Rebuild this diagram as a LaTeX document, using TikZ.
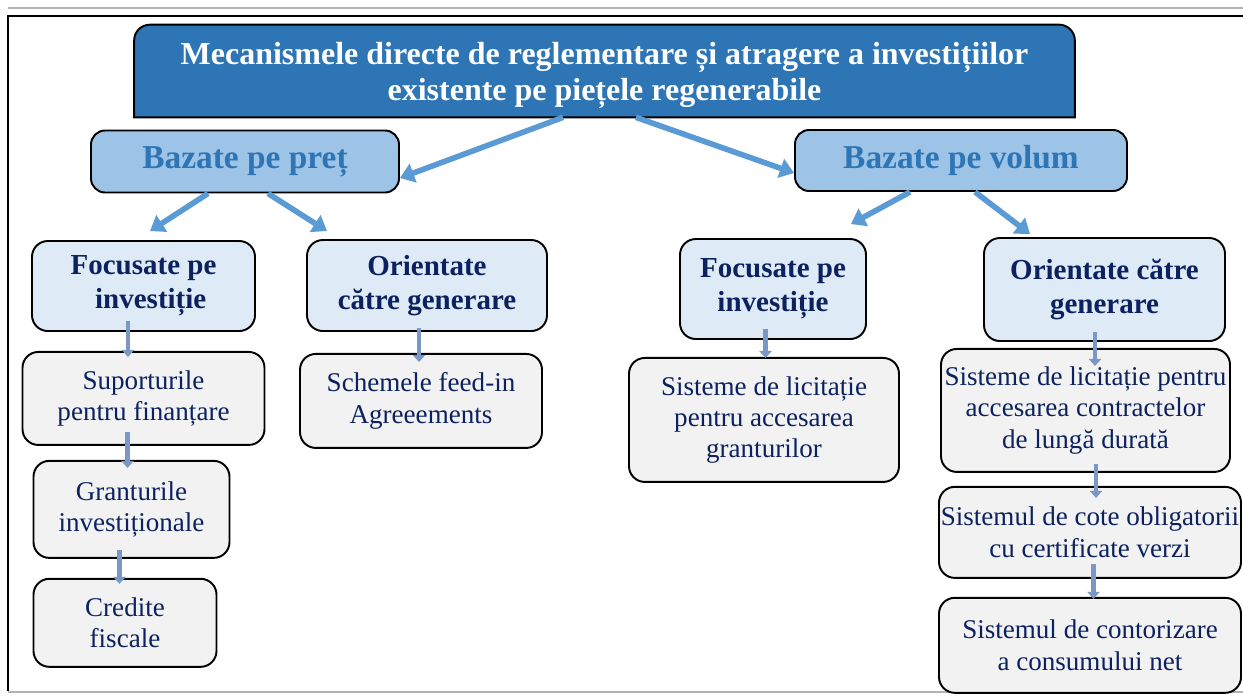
\documentclass[tikz,border=0pt]{standalone}
\usepackage{fontspec}
\setmainfont{Liberation Serif}
\usepackage{tikz}
\usetikzlibrary{arrows.meta,positioning,backgrounds}
\definecolor{title-blue}{RGB}{46,117,182}
\definecolor{group-blue}{RGB}{157,195,230}
\definecolor{pale-blue}{RGB}{222,235,247}
\definecolor{leaf-gray}{RGB}{242,242,242}
\definecolor{navy}{RGB}{12,34,96}
\definecolor{arrow-blue}{RGB}{91,155,213}
\definecolor{step-blue}{RGB}{122,152,198}

\begin{document}
\begin{tikzpicture}[
    title/.style={rectangle, inner sep=0pt, minimum width=18.8cm, minimum height=1.66cm, align=center, text=white, font=\fontsize{18.2}{20.5}\selectfont\bfseries},
    group/.style={rectangle, draw, line width=1.1pt, rounded corners=8pt, fill=group-blue, inner sep=0pt, align=center, text=title-blue, font=\fontsize{19}{22}\selectfont\bfseries},
    kind/.style={rectangle, draw, line width=1.1pt, rounded corners=9pt, fill=pale-blue, inner sep=0pt, align=center, text=navy, font=\fontsize{16.5}{19.3}\selectfont\bfseries},
    leaf/.style={rectangle, draw, line width=1.1pt, rounded corners=9pt, fill=leaf-gray, inner sep=0pt, align=center, text=navy, font=\fontsize{15.4}{17.8}\selectfont},
    arrow/.style={-{Triangle[length=8pt,width=11pt]}, line width=3.2pt, arrow-blue},
    flow/.style={-{Triangle[length=4pt,width=7pt]}, line width=2.8pt, step-blue}
]
\useasboundingbox (0,0) rectangle (24.86,-13.9);

% Frame
\draw[gray!60, line width=1pt] (0.16,-0.16) -- (24.86,-0.16);
\draw[line width=1.2pt] (24.86,-0.32) -- (0.16,-0.32) -- (0.16,-13.82);
\draw[gray!60, line width=1pt] (0.16,-13.84) -- (24.86,-13.84);

% Title
\node[title] (top) at (12.09,-1.51) {Mecanismele directe de reglementare și atragere a investițiilor\\existente pe piețele regenerabile};
\begin{scope}[on background layer]
\draw[line width=1.1pt, fill=title-blue] (top.south west) [rounded corners=9pt] -- ([yshift=0.18cm]top.north west) -- ([yshift=0.18cm]top.north east) [sharp corners] -- (top.south east) -- cycle;
\end{scope}

% Groups
\node[group, minimum width=6.16cm, minimum height=1.24cm] (price) at (4.90,-3.23) {Bazate pe preț};
\node[group, minimum width=6.64cm, minimum height=1.22cm] (volume) at (19.22,-3.21) {Bazate pe volum};

% Price based
\node[kind, minimum width=4.46cm, minimum height=1.80cm] (invL) at (2.87,-5.72) {Focusate pe\\\hspace*{0.5em}investiție};
\node[kind, minimum width=4.80cm, minimum height=1.82cm] (genL) at (8.54,-5.71) {Orientate\\către generare};
\node[leaf, minimum width=4.84cm, minimum height=1.86cm, below=0.38cm of invL] (sup) {Suporturile\\pentru finanțare};
\node[leaf, minimum width=3.92cm, minimum height=1.94cm, below=0.28cm of sup, xshift=-0.24cm] (grant) {Granturile\\investiționale};
\node[leaf, minimum width=3.66cm, minimum height=1.76cm, below=0.38cm of grant, xshift=-0.13cm] (cred) {Credite\\fiscale};
\node[leaf, minimum width=4.84cm, minimum height=1.88cm, below=0.42cm of genL, xshift=-0.12cm] (feed) {Schemele feed-in\\Agreeements};

% Volume based
\node[kind, minimum width=3.72cm, minimum height=2.00cm] (invR) at (15.46,-5.78) {Focusate pe\\investiție};
\node[kind, minimum width=4.82cm, minimum height=2.06cm] (genR) at (22.09,-5.79) {Orientate către\\generare};
\node[leaf, minimum width=5.40cm, minimum height=2.48cm, below=0.34cm of invR, xshift=-0.18cm] (licG) {Sisteme de licitație\\pentru accesarea\\granturilor};
\node[leaf, minimum width=5.78cm, minimum height=2.46cm, below=0.12cm of genR, xshift=-0.38cm] (licC) {Sisteme de licitație pentru\\accesarea contractelor\\de lungă durată};
\node[leaf, minimum width=6.04cm, minimum height=1.82cm, below=0.26cm of licC, xshift=0.09cm] (cote) {Sistemul de cote obligatorii\\cu certificate verzi};
\node[leaf, minimum width=6.04cm, minimum height=1.90cm, below=0.36cm of cote] (cont) {Sistemul de contorizare\\a consumului net};

% Arrows
\draw[arrow] ([xshift=-0.83cm]top.south) -- ([yshift=-0.33cm]price.east);
\draw[arrow] ([xshift=0.63cm]top.south) -- ([yshift=-0.25cm]volume.west);
\draw[arrow] ([xshift=-0.74cm]price.south) -- ([xshift=0.13cm,yshift=0.18cm]invL.north);
\draw[arrow] ([xshift=0.46cm]price.south) -- ([xshift=0.42cm,yshift=0.16cm]genL.north west);
\draw[arrow] ([xshift=-1.02cm]volume.south) -- ([xshift=-0.32cm,yshift=0.28cm]invR.north east);
\draw[arrow] ([xshift=0.28cm]volume.south) -- ([xshift=0.94cm,yshift=0.06cm]genR.north west);

\draw[flow] ([xshift=-0.31cm,yshift=0.22cm]invL.south) -- ([xshift=-0.31cm,yshift=-0.12cm]invL.south |- sup.north);
\draw[flow] ([xshift=-0.32cm,yshift=0.28cm]sup.south) -- ([xshift=-0.32cm,yshift=-0.16cm]sup.south |- grant.north);
\draw[flow] ([xshift=-0.24cm,yshift=0.18cm]grant.south) -- ([xshift=-0.24cm,yshift=-0.12cm]grant.south |- cred.north);
\draw[flow] ([xshift=-0.16cm,yshift=0.08cm]genL.south) -- ([xshift=-0.16cm,yshift=-0.18cm]genL.south |- feed.north);
\draw[flow] ([xshift=-0.15cm,yshift=0.22cm]invR.south) -- ([xshift=-0.15cm,yshift=-0.02cm]invR.south |- licG.north);
\draw[flow] ([xshift=-0.19cm,yshift=0.20cm]genR.south) -- ([xshift=-0.19cm,yshift=-0.36cm]genR.south |- licC.north);
\draw[flow] ([xshift=0.21cm,yshift=0.18cm]licC.south) -- ([xshift=0.21cm,yshift=-0.24cm]licC.south |- cote.north);
\draw[flow] ([xshift=0.07cm,yshift=0.30cm]cote.south) -- ([xshift=0.07cm,yshift=-0.04cm]cote.south |- cont.north);

\end{tikzpicture}
\end{document}
